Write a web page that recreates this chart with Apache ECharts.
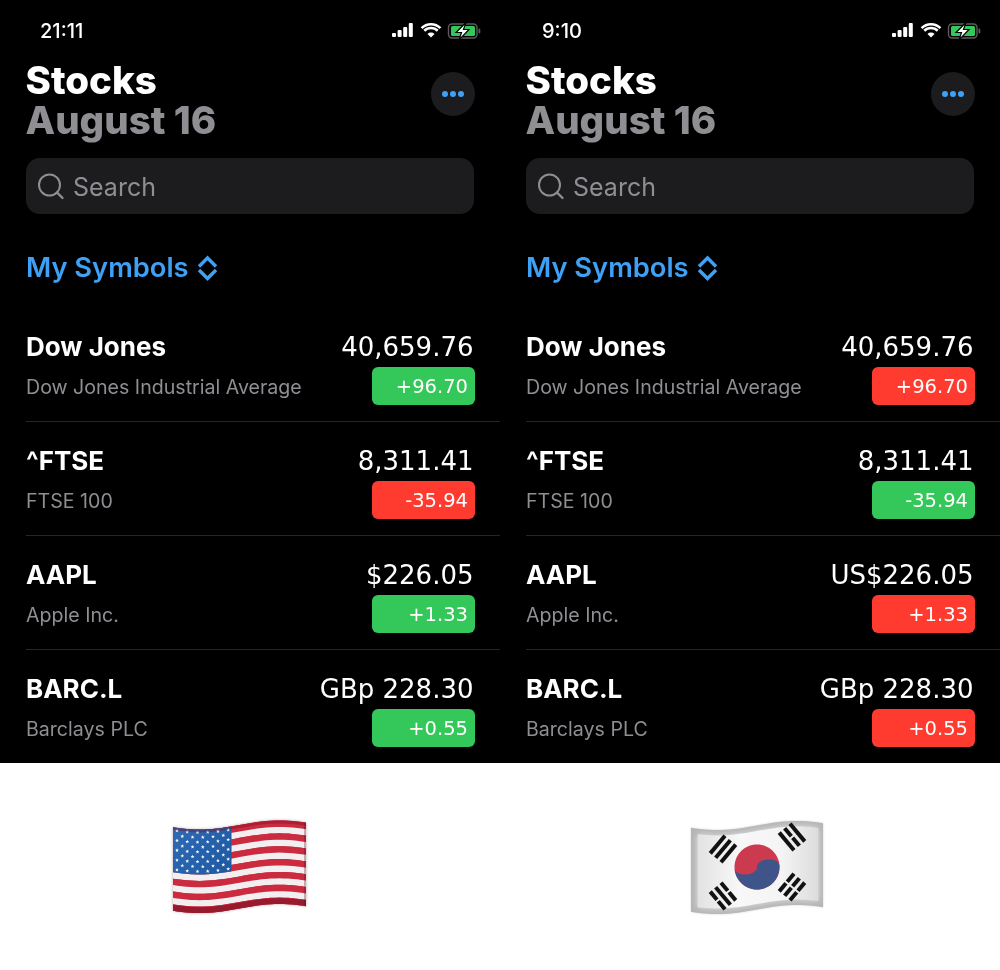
<!DOCTYPE html>
<html>
<head>
<meta charset="utf-8">
<title>Stocks</title>
<style>html,body{margin:0;padding:0;background:#fff}#main{width:1000px;height:970px}</style>
<script src="https://cdn.jsdelivr.net/npm/echarts@6/dist/echarts.min.js"></script>
</head>
<body>
<div id="main"></div>
<script>
var panels = ['US', 'KR'];
var clockTimes = ['21:11', '9:10'];
var symbols = ['Dow Jones', '^FTSE', 'AAPL', 'BARC.L'];
var fullNames = ['Dow Jones Industrial Average', 'FTSE 100', 'Apple Inc.', 'Barclays PLC'];
var pricesUS = ['40,659.76', '8,311.41', '$226.05', 'GBp 228.30'];
var pricesKR = ['40,659.76', '8,311.41', 'US$226.05', 'GBp 228.30'];
var changes = [96.70, -35.94, 1.33, 0.55];

var FONT = 'Inter, "Noto Sans", sans-serif';
var NUMFONT = '"DejaVu Sans", sans-serif'; // wide tabular digits, closest to the phone's numbers
var BLUE = '#3fa1f5', GREEN = '#34c759', RED = '#ff3b30', GREY = '#8e8e93', DARK = '#1c1c1e';

// in the US up is green, in Korea up is red
function changeColor(panel, v) {
    var up = v >= 0;
    if (panel === 1) up = !up;
    return up ? GREEN : RED;
}

function txt(s, x, y, size, weight, fill, align, family) {
    return {
        type: 'text',
        style: { text: s, x: x, y: y, font: weight + ' ' + size + 'px ' + (family || FONT), fill: fill, align: align || 'left', verticalAlign: 'middle' }
    };
}

function renderRow(params, api) {
    var panel = api.value(0), row = api.value(1);
    var c = api.coord([panel, row]);
    var bw = api.size([1, 0])[0], bh = api.size([0, 1])[1];
    var x0 = c[0] - bw / 2, top = c[1] - bh / 2, bottom = c[1] + bh / 2;
    var prices = panel === 0 ? pricesUS : pricesKR;
    var v = changes[row];
    var kids = [
        txt(symbols[row], x0 + 26, top + 41.5, 26, 700, '#fff'),
        txt(fullNames[row], x0 + 26, top + 81, 19.6, 400, GREY),
        txt(prices[row], x0 + 473.5, top + 42.5, 26, 400, '#fff', 'right', NUMFONT),
        { type: 'rect', shape: { x: x0 + 372, y: top + 60, width: 103, height: 38, r: 6 }, style: { fill: changeColor(panel, v) } },
        txt((v >= 0 ? '+' : '') + v.toFixed(2), x0 + 468, top + 81, 19.5, 400, '#fff', 'right', NUMFONT)
    ];
    if (row < symbols.length - 1) {
        kids.push({ type: 'rect', shape: { x: x0 + 26, y: bottom, width: 474, height: 1 }, style: { fill: '#262628' } });
    }
    return { type: 'group', children: kids };
}

// top bar, title, search box, all the bits above the list
function chrome(i) {
    var o = i * 500;
    var g = [];
    g.push(txt(clockTimes[i], o + (i ? 42 : 40), 31.5, 20, 500, '#fff'));
    var barH = [4, 7, 10, 14];
    barH.forEach(function (h, k) {
        g.push({ type: 'rect', shape: { x: o + 392 + k * 5.6, y: 37 - h, width: 4, height: h, r: 1 }, style: { fill: '#fff' } });
    });
    [5.5, 9.5, 13.3].forEach(function (r, k) {
        if (k === 0) {
            g.push({ type: 'sector', shape: { cx: o + 431, cy: 37.5, r: 5, r0: 0, startAngle: -Math.PI * 0.75, endAngle: -Math.PI * 0.25 }, style: { fill: '#fff' } });
        } else {
            g.push({ type: 'arc', shape: { cx: o + 431, cy: 37.5, r: r, startAngle: -Math.PI * 0.75, endAngle: -Math.PI * 0.25 }, style: { stroke: '#fff', fill: null, lineWidth: 2.6 } });
        }
    });
    g.push({ type: 'rect', shape: { x: o + 448.5, y: 24, width: 28.5, height: 14, r: 3.5 }, style: { fill: null, stroke: '#5c5c5e', lineWidth: 1.4 } });
    g.push({ type: 'rect', shape: { x: o + 451, y: 26, width: 24, height: 10, r: 1.5 }, style: { fill: GREEN } });
    g.push({ type: 'rect', shape: { x: o + 478.5, y: 28.5, width: 1.8, height: 5, r: 1 }, style: { fill: '#5c5c5e' } });
    g.push({ type: 'polygon', shape: { points: [[o + 466, 22.5], [o + 456, 32.5], [o + 461.5, 32.5], [o + 459, 40], [o + 469, 29.5], [o + 463.5, 29.5]] }, style: { fill: '#fff', stroke: '#000', lineWidth: 1.2 } });

    g.push(txt('Stocks', o + 25.5, 82, 38.5, 800, '#fff'));
    g.push(txt('August 16', o + 25.5, 122, 38.5, 800, GREY));
    g.push({ type: 'circle', shape: { cx: o + 453, cy: 94, r: 22 }, style: { fill: DARK } });
    [-8, 0, 8].forEach(function (d) {
        g.push({ type: 'circle', shape: { cx: o + 453 + d, cy: 94, r: 3 }, style: { fill: BLUE } });
    });

    g.push({ type: 'rect', shape: { x: o + 26, y: 158, width: 448, height: 56, r: 14 }, style: { fill: DARK } });
    g.push({ type: 'circle', shape: { cx: o + 49.5, cy: 185, r: 10.5 }, style: { fill: null, stroke: GREY, lineWidth: 2 } });
    g.push({ type: 'line', shape: { x1: o + 57, y1: 192.5, x2: o + 62.5, y2: 198 }, style: { stroke: GREY, lineWidth: 2.4, lineCap: 'round' } });
    g.push(txt('Search', o + 73, 188, 25, 400, GREY));

    g.push(txt('My Symbols', o + 26, 269, 27.3, 600, BLUE));
    g.push({ type: 'polyline', shape: { points: [[o + 199, 266.5], [o + 207.5, 258], [o + 216, 266.5]] }, style: { fill: null, stroke: BLUE, lineWidth: 3.4 } });
    g.push({ type: 'polyline', shape: { points: [[o + 199, 270], [o + 207.5, 278.5], [o + 216, 270]] }, style: { fill: null, stroke: BLUE, lineWidth: 3.4 } });
    return g;
}

// flag cloth: u across, v down, with a wave through it
function cloth(x0, top, w, h) {
    return function (u, v) {
        var wave = 4.5 * Math.sin(2 * Math.PI * (u + 0.1) / 1.2);
        return [x0 + u * w, top + wave + v * h];
    };
}

function band(pt, u0, u1, v0, v1) {
    var pts = [], n = 30, k;
    for (k = 0; k <= n; k++) pts.push(pt(u0 + (u1 - u0) * k / n, v0));
    for (k = n; k >= 0; k--) pts.push(pt(u0 + (u1 - u0) * k / n, v1));
    return pts;
}

function poly(points, style) {
    return { type: 'polygon', shape: { points: points }, style: style };
}

function star(cx, cy, r) {
    var pts = [];
    for (var k = 0; k < 10; k++) {
        var a = -Math.PI / 2 + k * Math.PI / 5, rr = k % 2 ? r * 0.42 : r;
        pts.push([cx + rr * Math.cos(a), cy + rr * Math.sin(a)]);
    }
    return pts;
}

function usFlag() {
    var pt = cloth(173, 825, 133, 83.5);
    var g = [], k, j;
    g.push(poly(band(pt, 0, 1, 0, 1), { fill: '#b22a3c', shadowBlur: 3, shadowColor: 'rgba(120,60,70,.5)' }));
    for (k = 0; k < 13; k++) {
        g.push(poly(band(pt, 0, 1, k / 13, (k + 1) / 13), { fill: k % 2 ? '#f3eff0' : '#cc2a3f' }));
    }
    g.push(poly(band(pt, 0, 0.44, 0, 7 / 13), {
        fill: { type: 'linear', x: 0, y: 0, x2: 1, y2: 1, colorStops: [{ offset: 0, color: '#2f6bb5' }, { offset: 1, color: '#1d58a3' }] }
    }));
    for (j = 0; j < 9; j++) {
        var count = j % 2 ? 5 : 6;
        for (k = 0; k < count; k++) {
            var u = (j % 2 ? 0.07 : 0.03) + k * 0.077;
            var p = pt(u, 0.035 + j * 0.0585);
            g.push(poly(star(p[0], p[1], 2), { fill: '#fff' }));
        }
    }
    g.push(poly(band(pt, 0, 1, 0, 0.035), { fill: 'rgba(110,10,30,.35)' }));
    g.push(poly(band(pt, 0, 1, 0.93, 1), { fill: 'rgba(100,10,30,.5)' }));
    g.push(poly(band(pt, 0.985, 1, 0, 1), { fill: 'rgba(90,10,30,.3)' }));
    return g;
}

function trigram(cx, cy, dx, dy, pattern) {
    var len = Math.sqrt(dx * dx + dy * dy);
    var ax = dx / len, ay = dy / len, nx = -ay, ny = ax;
    var g = [];
    pattern.forEach(function (broken, k) {
        var off = (k - 1) * 7;
        var segs = broken ? [[-11.5, -1], [1, 11.5]] : [[-11.5, 11.5]];
        segs.forEach(function (s) {
            var bx = cx + nx * off, by = cy + ny * off, t = 2;
            g.push(poly([
                [bx + ax * s[0] + nx * t, by + ay * s[0] + ny * t],
                [bx + ax * s[1] + nx * t, by + ay * s[1] + ny * t],
                [bx + ax * s[1] - nx * t, by + ay * s[1] - ny * t],
                [bx + ax * s[0] - nx * t, by + ay * s[0] - ny * t]
            ], { fill: '#111' }));
        });
    });
    return g;
}

function krFlag() {
    var pt = cloth(691, 825.5, 132, 84);
    var g = [];
    g.push(poly(band(pt, 0, 1, 0, 1), { fill: '#b4b4b4', shadowBlur: 2, shadowColor: 'rgba(0,0,0,.2)' }));
    g.push(poly(band(pt, 0.05, 0.965, 0.065, 0.935), {
        fill: { type: 'linear', x: 0, y: 0, x2: 1, y2: 0, colorStops: [{ offset: 0, color: '#e2e2e2' }, { offset: 0.35, color: '#f8f8f8' }, { offset: 0.7, color: '#f4f4f4' }, { offset: 1, color: '#dcdcdc' }] },
        shadowBlur: 7, shadowColor: '#e4e4e4'
    }));
    var cx = 757, cy = 867, r = 22.5;
    var tilt = Math.atan2(-3, 42);
    function rot(x, y) {
        return [cx + x * Math.cos(tilt) - y * Math.sin(tilt), cy + x * Math.sin(tilt) + y * Math.cos(tilt)];
    }
    var full = [], blue = [], k, a;
    for (k = 0; k <= 60; k++) {
        a = k / 60 * Math.PI * 2;
        full.push([cx + r * Math.cos(a), cy + r * Math.sin(a)]);
    }
    g.push(poly(full, { fill: '#cb3a4e' }));
    // the s-curve is flattened in the emoji, not two true half circles
    var flat = 0.6;
    for (k = 0; k <= 20; k++) { a = Math.PI - k / 20 * Math.PI; blue.push(rot(-r / 2 + r / 2 * Math.cos(a), flat * r / 2 * Math.sin(a))); }
    for (k = 0; k <= 20; k++) { a = Math.PI + k / 20 * Math.PI; blue.push(rot(r / 2 + r / 2 * Math.cos(a), flat * r / 2 * Math.sin(a))); }
    for (k = 0; k <= 40; k++) { a = k / 40 * Math.PI; blue.push(rot(r * Math.cos(a), r * Math.sin(a))); }
    g.push(poly(blue, { fill: '#3f5488' }));
    g = g.concat(trigram(723, 849, 1, -1.2, [0, 0, 0]));
    g = g.concat(trigram(792, 837, 1, 1.2, [0, 1, 0]));
    g = g.concat(trigram(723, 896, 1, 1.2, [1, 0, 1]));
    g = g.concat(trigram(792, 887, 1, -1.2, [1, 1, 1]));
    return g;
}

var rowData = [];
panels.forEach(function (p, i) {
    symbols.forEach(function (s, r) { rowData.push([i, r]); });
});

var gfx = [{ type: 'rect', z: -10, shape: { x: 0, y: 0, width: 1000, height: 763 }, style: { fill: '#000' } }]
    .concat(chrome(0), chrome(1), usFlag(), krFlag());

var myChart = echarts.init(document.getElementById('main'));
myChart.setOption({
    animation: false,
    backgroundColor: '#fff',
    tooltip: { show: false },
    graphic: { elements: gfx },
    grid: { left: 0, top: 307, width: 1000, height: 456 },
    xAxis: { type: 'category', data: panels, show: false },
    yAxis: { type: 'category', data: symbols, inverse: true, show: false },
    series: [{
        type: 'custom',
        renderItem: renderRow,
        encode: { x: 0, y: 1 },
        data: rowData,
        silent: true,
        clip: false
    }]
});
</script>
</body>
</html>
